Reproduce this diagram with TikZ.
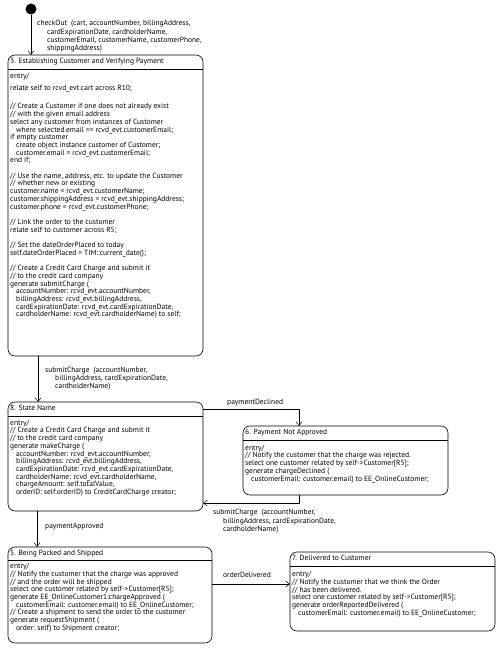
\documentclass[tikz,border=0pt]{standalone}
\usepackage{fontspec}
\setmainfont{PT Sans}
\usetikzlibrary{arrows.meta,calc}
\begin{document}
\begin{tikzpicture}[x=1pt,y=-1pt,
  state/.style={draw, rounded corners=7pt, line width=0.6pt, inner sep=0pt, outer sep=0pt, anchor=north west},
  txt/.style={font=\fontsize{7.5}{7.7}\selectfont, align=left, inner sep=0pt, anchor=north west},
  lbl/.style={font=\fontsize{7.5}{8.3}\selectfont, align=left, inner sep=0pt, anchor=north west},
  ttl/.style={font=\fontsize{7.5}{7.7}\selectfont, inner sep=0pt, anchor=west, text height=5.2pt, text depth=1.6pt},
  arr/.style={line width=0.5pt, -{Straight Barb[length=4pt,width=6pt,line width=0.5pt]}},
  sepl/.style={line width=0.5pt}]
\useasboundingbox (0,0) rectangle (500,651);
\newcommand{\ind}{\hspace*{6pt}}
\newcommand{\lind}{\hspace*{10pt}}

% initial pseudo state
\node[circle, fill, inner sep=0pt, minimum size=11pt] (init) at (31,9) {};

% ---- state 3
\node[state, minimum width=195pt, minimum height=301pt] (s3) at (8,55) {};
\node[ttl] (t3) at (10,62) {3. Establishing Customer and Verifying Payment};
\draw[sepl] (s3.west |- 0,69.5) -- (s3.east |- 0,69.5);
\node[txt] (b3) at (10,73.2) {\strut entry/\\[3.8pt]
relate self to rcvd\_evt.cart across R10;\\[11pt]
// Create a Customer if one does not already exist\\
// with the given email address\\
select any customer from instances of Customer\\
\ind where selected.email == rcvd\_evt.customerEmail;\\
if empty customer\\
\ind create object instance customer of Customer;\\
\ind customer.email = rcvd\_evt.customerEmail;\\
end if;\\[7.7pt]
// Use the name, address, etc. to update the Customer\\
// whether new or existing\\
customer.name = rcvd\_evt.customerName;\\
customer.shippingAddress = rcvd\_evt.shippingAddress;\\
customer.phone = rcvd\_evt.customerPhone;\\[7.7pt]
// Link the order to the customer\\
relate self to customer across R5;\\[7.7pt]
// Set the dateOrderPlaced to today\\
self.dateOrderPlaced = TIM::current\_date();\\[7.7pt]
// Create a Credit Card Charge and submit it\\
// to the credit card company\\
generate submitCharge (\\
\ind accountNumber: rcvd\_evt.accountNumber,\\
\ind billingAddress: rcvd\_evt.billingAddress,\\
\ind cardExpirationDate: rcvd\_evt.cardExpirationDate,\\
\ind cardholderName: rcvd\_evt.cardholderName) to self;};

% ---- state 8
\node[state, minimum width=195pt, minimum height=109pt] (s8) at (8,402) {};
\node[ttl] (t8) at (10,409) {8. State Name};
\draw[sepl] (s8.west |- 0,416) -- (s8.east |- 0,416);
\node[txt] (b8) at (10,419.7) {\strut entry/\\
// Create a Credit Card Charge and submit it\\
// to the credit card company\\
generate makeCharge (\\
\ind accountNumber: rcvd\_evt.accountNumber,\\
\ind billingAddress: rcvd\_evt.billingAddress,\\
\ind cardExpirationDate: rcvd\_evt.cardExpirationDate,\\
\ind cardholderName: rcvd\_evt.cardholderName,\\
\ind chargeAmount: self.totalValue,\\
\ind orderID: self.orderID) to CreditCardCharge creator;};

% ---- state 6
\node[state, minimum width=205pt, minimum height=69pt] (s6) at (243,426) {};
\node[ttl] (t6) at (245,433) {6. Payment Not Approved};
\draw[sepl] (s6.west |- 0,440) -- (s6.east |- 0,440);
\node[txt] (b6) at (245,444.7) {\strut entry/\\
// Notify the customer that the charge was rejected.\\
select one customer related by self->Customer[R5];\\
generate chargeDeclined (\\
\ind customerEmail: customer.email) to EE\_OnlineCustomer;};

% ---- state 5
\node[state, minimum width=204pt, minimum height=96pt] (s5) at (8,547) {};
\node[ttl] (t5) at (10,553.5) {5. Being Packed and Shipped};
\draw[sepl] (s5.west |- 0,560) -- (s5.east |- 0,560);
\node[txt] (b5) at (10,563.2) {\strut entry/\\
// Notify the customer that the charge was approved\\
// and the order will be shipped\\
select one customer related by self->Customer[R5];\\
generate EE\_OnlineCustomer1:chargeApproved (\\
\ind customerEmail: customer.email) to EE\_OnlineCustomer;\\
// Create a shipment to send the order to the customer\\
generate requestShipment (\\
\ind order: self) to Shipment creator;};

% ---- state 7
\node[state, minimum width=205pt, minimum height=79pt] (s7) at (290,552) {};
\node[ttl] (t7) at (292,559) {7. Delivered to Customer};
\draw[sepl] (s7.west |- 0,566) -- (s7.east |- 0,566);
\node[txt] (b7) at (292,571.2) {\strut entry/\\
// Notify the customer that we think the Order\\
// has been delivered.\\
select one customer related by self->Customer[R5];\\
generate orderReportedDelivered (\\
\ind customerEmail: customer.email) to EE\_OnlineCustomer;};

% ---- transitions
\draw[arr] (init) -- (init |- s3.north);
\node[lbl] (l1) at (37,20.2) {checkOut\ \ (cart, accountNumber, billingAddress,\\
\lind cardExpirationDate, cardholderName,\\
\lind customerEmail, customerName, customerPhone,\\
\lind shippingAddress)};

\coordinate (c1) at (38,0);
\draw[arr] (c1 |- s3.south) -- (c1 |- s8.north);
\node[lbl] (l2) at (45,366.7) {submitCharge\ \ (accountNumber,\\
\lind billingAddress, cardExpirationDate,\\
\lind cardholderName)};

\coordinate (pd) at (299,409);
\draw[arr] (s8.east |- pd) -- (pd) -- (pd |- s6.north);
\node[ttl] (l3) at (227,403) {paymentDeclined};

\coordinate (rc) at (299,503);
\draw[arr] (rc |- s6.south) -- (rc) -- (rc -| s8.east);
\node[lbl] (l4) at (213,509.2) {submitCharge\ \ (accountNumber,\\
\lind billingAddress, cardExpirationDate,\\
\lind cardholderName)};

\coordinate (c2) at (37,0);
\draw[arr] (c2 |- s8.south) -- (c2 |- s5.north);
\node[ttl] (l5) at (45,527) {paymentApproved};

\coordinate (od) at (0,584);
\draw[arr] (s5.east |- od) -- (s7.west |- od);
\node[ttl] (l6) at (223,576) {orderDelivered};
\end{tikzpicture}
\end{document}
